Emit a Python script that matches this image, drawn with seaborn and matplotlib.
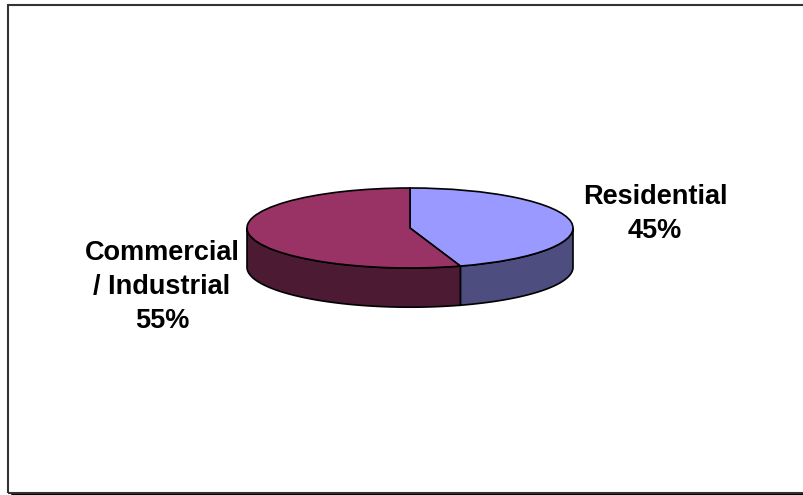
import numpy as np
import matplotlib
matplotlib.use("Agg")
import matplotlib.pyplot as plt
import seaborn as sns

# ---- data ----
categories = ["Residential", "Commercial\n/ Industrial"]
shares = [45, 55]
top_colors = ["#9999FF", "#993366"]
side_colors = ["#4D4D80", "#4D1A33"]

sns.set_theme(style="white")
plt.rcParams["font.family"] = ["Liberation Sans", "DejaVu Sans"]

W, H = 804, 495
fig = plt.figure(figsize=(W / 100, H / 100), dpi=100)
fig.patch.set_facecolor("white")
ax = fig.add_axes([0, 0, 1, 1])

# pixel geometry of the pie
cx, cy = 410, 228          # centre (from top)
a_px, b_px = 163, 40       # semi axes
depth = 0.98               # thickness in y-units (1 unit = b_px)

# top face via ax.pie (circle squashed by axis scaling)
wedges, _ = ax.pie(shares, colors=top_colors, startangle=90, counterclock=False,
                   radius=1, wedgeprops=dict(edgecolor="black", linewidth=1.2))
for w in wedges:
    w.set_zorder(3)

# side faces (front half only)
total = float(sum(shares))
start = 90.0
for val, sc in zip(shares, side_colors):
    end = start - 360.0 * val / total
    lo, hi = end, start
    for off in (0, -360, 360):
        l, h = lo + off, hi + off
        l2, h2 = max(l, -180), min(h, 0)
        if h2 > l2:
            th = np.radians(np.linspace(l2, h2, 200))
            xs = np.cos(th)
            ys = np.sin(th)
            px = np.concatenate([xs, xs[::-1]])
            py = np.concatenate([ys, ys[::-1] - depth])
            ax.fill(px, py, facecolor=sc, edgecolor="black", linewidth=1.2, zorder=2)
    start = end

ax.set_aspect("auto")
ax.set_xlim(-cx / a_px, (W - cx) / a_px)
ax.set_ylim(-(H - cy) / b_px, cy / b_px)
ax.axis("off")

def fx(x):
    return x / W

def fy(y):
    return 1 - y / H

fig.text(fx(655), fy(214), f"{categories[0]}\n{shares[0]}%", ha="center", va="center",
         fontsize=19.5, fontweight="bold", color="black", linespacing=1.42)
fig.text(fx(162), fy(287), f"{categories[1]}\n{shares[1]}%", ha="center", va="center",
         fontsize=19.5, fontweight="bold", color="black", linespacing=1.42)

# chart-area border
border = plt.Rectangle((fx(8), fy(493)), 1.2, fy(5) - fy(493), transform=fig.transFigure,
                       fill=False, edgecolor="#333333", linewidth=1.5)
fig.add_artist(border)
fig.add_artist(plt.Line2D([fx(12), 1], [fy(494.5), fy(494.5)], transform=fig.transFigure,
                          color="black", linewidth=1.5))

fig.savefig("out.png", dpi=100, facecolor="white")
